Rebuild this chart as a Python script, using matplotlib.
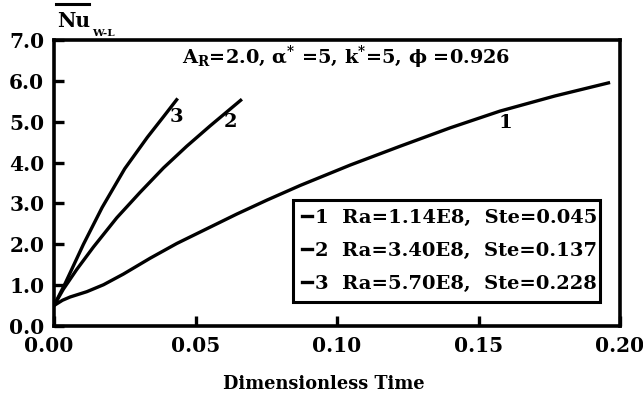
import matplotlib
matplotlib.use("Agg")
import matplotlib.pyplot as plt
from matplotlib.lines import Line2D
from matplotlib.transforms import ScaledTranslation

FONT = 'DejaVu Serif'
plt.rcParams['font.family'] = [FONT]
plt.rcParams['font.weight'] = 'bold'
plt.rcParams['mathtext.fontset'] = 'custom'
plt.rcParams['mathtext.rm'] = FONT + ':bold'
plt.rcParams['mathtext.it'] = FONT + ':bold'
plt.rcParams['mathtext.bf'] = FONT + ':bold'

# Data
t1 = [0.0, 0.003, 0.0057, 0.0116, 0.0175, 0.0245, 0.034, 0.0434, 0.054, 0.0646,
      0.0752, 0.087, 0.1047, 0.1223, 0.14, 0.1576, 0.1770, 0.1965]
nu1 = [0.50, 0.63, 0.71, 0.84, 1.01, 1.27, 1.66, 2.02, 2.38, 2.74,
       3.08, 3.44, 3.94, 4.40, 4.85, 5.26, 5.63, 5.96]
t2 = [0.0, 0.0033, 0.0080, 0.0139, 0.0222, 0.0304, 0.0387, 0.0469, 0.0552, 0.0664]
nu2 = [0.50, 0.90, 1.38, 1.93, 2.65, 3.27, 3.87, 4.40, 4.90, 5.55]
t3 = [0.0, 0.0040, 0.0104, 0.0170, 0.0250, 0.0330, 0.0390, 0.0437]
nu3 = [0.50, 1.05, 2.00, 2.90, 3.85, 4.62, 5.15, 5.57]

series_ids = ['1', '2', '3']
ra_labels = ['1.14E8', '3.40E8', '5.70E8']
ste_labels = ['0.045', '0.137', '0.228']
x_ticks = [0.0, 0.05, 0.10, 0.15, 0.20]
y_ticks = [0.0, 1.0, 2.0, 3.0, 4.0, 5.0, 6.0, 7.0]

fig = plt.figure(figsize=(6.43, 3.98), dpi=100)
ax = fig.add_axes([54/643, 1-326/398, 566/643, 286/398])

lw = 2.4
for t, nu in [(t1, nu1), (t2, nu2), (t3, nu3)]:
    ax.plot(t, nu, color='black', lw=lw, solid_capstyle='butt', solid_joinstyle='round')

ax.set_xlim(0, 0.20)
ax.set_ylim(0, 7.0)
ax.set_xticks(x_ticks)
ax.set_xticklabels([f"{v:.2f}" for v in x_ticks])
ax.set_yticks(y_ticks)
ax.set_yticklabels([f"{v:.1f}" for v in y_ticks])
ax.tick_params(direction='in', length=7, width=2.4, labelsize=14.5)
ax.tick_params(axis='x', pad=7)
ax.tick_params(axis='y', pad=7)
for sp in ax.spines.values():
    sp.set_linewidth(2.6)

# first x tick label sits slightly left of the axis origin in the reference
first = ax.get_xticklabels()[0]
first.set_transform(first.get_transform() + ScaledTranslation(-5/100, 0, fig.dpi_scale_trans))

ax.set_xlabel('Dimensionless Time', fontsize=12.8, fontweight='bold')
ax.xaxis.set_label_coords((324-54)/566, (326-375)/286)

# curve labels
ax.text(0.0431, 5.11, '3', fontsize=14, fontweight='bold', ha='center', va='center')
ax.text(0.0622, 4.99, '2', fontsize=14, fontweight='bold', ha='center', va='center')
ax.text(0.1594, 4.96, '1', fontsize=14, fontweight='bold', ha='center', va='center')

# parameter text
ax.text(0.515, 0.94, r'A$_{\mathregular{R}}$=2.0, α$^{*}$ =5, k$^{*}$=5, ϕ =0.926',
        transform=ax.transAxes, fontsize=13.9, fontweight='bold', ha='center', va='center')

# y-axis label: Nu with overbar and subscript
fig.text(57/643, 1-21/398, 'Nu', fontsize=14.5, fontweight='bold', ha='left', va='center')
fig.text(92/643, 1-33/398, 'W-L', fontsize=7.5, fontweight='bold', ha='left', va='center')
fig.add_artist(Line2D([56/643, 89/643], [1-4/398, 1-4/398], color='black', lw=2.2,
                      transform=fig.transFigure))

handles = [Line2D([], [], color='black', lw=2.4) for _ in series_ids]
labels = [f"{s}  Ra={r},  Ste={st}" for s, r, st in zip(series_ids, ra_labels, ste_labels)]
leg = ax.legend(handles, labels, loc='lower left',
                bbox_to_anchor=((293-54)/566, (326-302)/286, (600-293)/566, (302-196)/286),
                mode='expand', prop={'family': FONT, 'weight': 'bold', 'size': 14.0},
                frameon=True, fancybox=False, framealpha=1,
                handlelength=0.55, handletextpad=0.15, borderpad=0.45, labelspacing=0.78,
                borderaxespad=0)
leg.get_frame().set_edgecolor('black')
leg.get_frame().set_linewidth(2.2)

fig.savefig('out.png', dpi=100)
